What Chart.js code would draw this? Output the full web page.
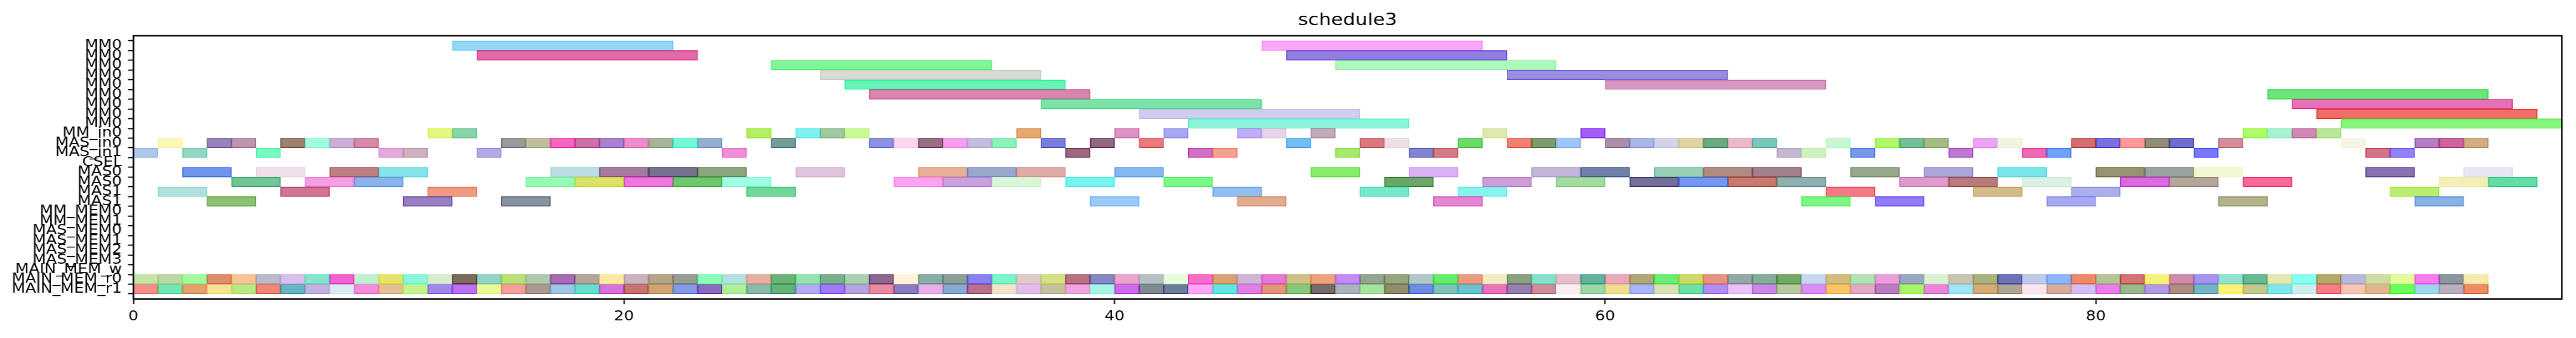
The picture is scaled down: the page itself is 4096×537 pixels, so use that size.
<!DOCTYPE html>
<html>
<head>
<meta charset="utf-8">
<script src="https://cdn.jsdelivr.net/npm/chart.js@4.4.1/dist/chart.umd.min.js"></script>
<style>
html,body{margin:0;padding:0;background:#fff;overflow:hidden;width:4096px;height:537px}
#wrap{width:4096px;height:537px;overflow:hidden;position:relative}
canvas{display:block;transform:scaleX(1.14);transform-origin:0 0}
</style>
</head>
<body>
<div id="wrap"><canvas id="c" width="3593" height="537" style="width:3593px;height:537px"></canvas></div>
<script>
const rowLabels = ['MM0','MM0','MM0','MM0','MM0','MM0','MM0','MM0','MM0','MM_in0','MAS_in0','MAS_in1','CSEL','MAS0','MAS0','MAS1','MAS1','MM_MEM0','MM_MEM1','MAS_MEM0','MAS_MEM1','MAS_MEM2','MAS_MEM3','MAIN_MEM_w','MAIN_MEM_r0','MAIN_MEM_r1'];
const xTickValues = [0, 20, 40, 60, 80];
const chartTitle = 'schedule3';

// task bars: row index, start, end
const barRows = [
  0,0, 1,1, 2,2, 3,3, 4,4, 5,5, 6,6, 7,7, 8,8,
  9,9,9,9,9,9,9,9,9,9,9,9,9,9,9,9,9,9,
  10,10,10,10,10,10,10,10,10,10,10,10,10,10,10,10,10,10,10,10,10,10,10,10,10,10,10,10,10,10,10,10,10,10,10,10,10,10,10,10,10,10,10,10,10,10,10,10,10,10,10,10,10,10,10,10,
  11,11,11,11,11,11,11,11,11,11,11,11,11,11,11,11,11,11,11,11,11,11,
  13,13,13,13,13,13,13,13,13,13,13,13,13,13,13,13,13,13,13,13,13,13,13,13,13,13,13,13,
  14,14,14,14,14,14,14,14,14,14,14,14,14,14,14,14,14,14,14,14,14,14,14,14,14,14,14,14,
  15,15,15,15,15,15,15,15,15,15,15,
  16,16,16,16,16,16,16,16,16,16,16
];
const barStarts = [
  13,46, 14,47, 26,49, 28,56, 29,60, 30,87, 37,88, 41,89, 43,90,
  12,13,25,27,28,29,36,40,42,45,46,48,55,59,86,87,88,89,
  1,3,4,6,7,8,9,15,16,17,18,19,20,21,22,23,26,30,31,32,33,34,35,37,39,41,47,50,51,54,56,57,58,60,61,62,63,64,65,66,69,71,72,73,75,76,79,80,81,82,83,85,90,93,94,95,
  0,2,5,10,11,14,24,38,43,44,49,52,53,67,68,70,74,77,78,84,91,92,
  2,5,8,10,17,19,21,23,27,32,34,36,40,48,52,57,59,62,64,66,70,73,76,80,82,84,91,95,
  4,7,9,16,18,20,22,24,31,33,35,38,42,51,55,58,61,63,65,67,72,74,77,81,83,86,94,96,
  1,6,12,25,44,50,54,69,75,79,92,
  3,11,15,39,45,53,68,71,78,85,93
];
const barEnds = [
  22,55, 23,56, 35,58, 37,65, 38,69, 39,96, 46,97, 50,98, 52,99,
  13,14,26,28,29,30,37,41,43,46,47,49,56,60,87,88,89,90,
  2,4,5,7,8,9,10,16,17,18,19,20,21,22,23,24,27,31,32,33,34,35,36,38,40,42,48,51,52,55,57,58,59,61,62,63,64,65,66,67,70,72,73,74,76,77,80,81,82,83,84,86,91,94,95,96,
  1,3,6,11,12,15,25,39,44,45,50,53,54,68,69,71,75,78,79,85,92,93,
  4,7,10,12,19,21,23,25,29,34,36,38,42,50,54,59,61,64,66,68,72,75,78,82,84,86,93,97,
  6,9,11,18,20,22,24,26,33,35,37,40,44,53,57,60,63,65,67,69,74,76,79,83,85,88,96,98,
  3,8,14,27,46,52,56,71,77,81,94,
  5,13,17,41,47,55,70,73,80,87,95
];

// memory rows: unit cells
const memStarts = [0,1,2,3,4,5,6,7,8,9,10,11,12,13,14,15,16,17,18,19,20,21,22,23,24,25,26,27,28,29,30,31,32,33,34,35,36,37,38,39,40,41,42,43,44,45,46,47,48,49,50,51,52,53,54,55,56,57,58,59,60,61,62,63,64,65,66,67,68,69,70,71,72,73,74,75,76,77,78,79,80,81,82,83,84,85,86,87,88,89,90,91,92,93,94,95];
const memEnds = [1,2,3,4,5,6,7,8,9,10,11,12,13,14,15,16,17,18,19,20,21,22,23,24,25,26,27,28,29,30,31,32,33,34,35,36,37,38,39,40,41,42,43,44,45,46,47,48,49,50,51,52,53,54,55,56,57,58,59,60,61,62,63,64,65,66,67,68,69,70,71,72,73,74,75,76,77,78,79,80,81,82,83,84,85,86,87,88,89,90,91,92,93,94,95,96];
const memRowR0 = 24;
const memRowR1 = 25;

// styles (colours), kept apart from the values
const barColors = [
  '#93d9f7','#fba8f9', '#e36aa8','#917ee0', '#80f59a','#b1f7bd', '#dadad4','#9a8ce0', '#64f4b4','#d598c3', '#d885b0','#6be67a', '#7be3a8','#e66fb7', '#d1cdf0','#f06e68', '#88f5d8','#85f57c',
  '#e4f780','#8ad4a9','#b2f065','#7ff0ed','#a0c8a0','#ccf998','#e6a871','#dc93c6','#a8a8f0','#bfaef5','#e8d4ea','#c4a9b9','#dde9b0','#a45ef7','#adfa6c','#a6f2d3','#cf89b7','#bde59a',
  '#fff7b6','#9782bb','#bd95ad','#9e8170','#a0fce0','#cab0d6','#d589a6','#969a98','#bfbfa0','#f566be','#cb70a8','#a882cb','#ea8dcd','#a8b49a','#74f6d8','#95b0cf','#739c9a','#8c92e0','#fcd5f0','#976f80','#f5a0ef','#c6bdde','#8ef0bb','#7b7ed6','#936683','#e77a7a','#74bdf3','#d77a80','#efdfe7','#6dd869','#ee8271','#7f9b6e','#a0c5fb','#a98ea9','#a9b5e5','#d3d3ec','#dfd5a3','#6aa983','#e8bac6','#7bc6ba','#c9f7d4','#b0f86a','#75be96','#a5bb87','#eaa6f4','#eff5e1','#d26d70','#7b71de','#fd9a99','#928b78','#6d6ecb','#cf8f98','#f4f6e3','#b27fc1','#c966a0','#d0ac85',
  '#b0c8e8','#93d8c2','#77f9c2','#e4aadb','#d0b0bf','#b4a8e5','#f08fd8','#9c6881','#d070c0','#f2a28f','#a8e870','#8286cf','#d37d88','#c6b8cf','#cdf4c0','#7899ea','#bd79d0','#ee69b3','#6ea3f9','#7679f9','#d47488','#9283f8',
  '#7094ec','#efdfe8','#be7f84','#88e2ea','#bcdde4','#a57a9f','#76728f','#8aa47c','#e0c3dc','#e6b094','#98a7ce','#e0aaa8','#85b7f0','#88ec68','#dbb1f5','#c3b6da','#7180a8','#97cfb7','#b08a80','#a27f8b','#96a78c','#aaa5d8','#7ae4ec','#949372','#98a39f','#f2f9d2','#8a70b0','#e5e7f3',
  '#70c496','#f49ee4','#8ab3ec','#98f9b4','#dae26a','#ef78de','#72c670','#a0fce3','#faa4f1','#c9a0e0','#d8f6d8','#76f4ed','#7cf988','#6aa66a','#cd9ed5','#a4dba0','#756e9b','#7497f0','#c77a72','#8fb0ae','#dd9bca','#b87b7b','#daf0e2','#d96ae0','#b4a59b','#f6699b','#f2f0b8','#66dba6',
  '#b0e1de','#d07594','#f09a84','#72d69a','#92bdf0','#76eac8','#88f2ee','#f27a84','#d3bc8a','#aaaeea','#bbed70',
  '#8cc074','#9780c2','#8892a0','#9bcbf8','#e0ad91','#e386d1','#7ef584','#957cf7','#a8aaf0','#b4b28c','#87b2e4'
];
const memR0Colors = ['#c6e4a6','#bad9a4','#a3fb9f','#dd8e6c','#f4c597','#babac8','#d6c1ec','#86e3cd','#f063d3','#c4f0cf','#e6e36b','#8bf6dc','#d8ecd0','#7e6b60','#92d3c5','#b7df7a','#b0c8ae','#a66cb4','#b4a59a','#fbeaa3','#c9b3bc','#b4a48a','#969e94','#8efcba','#b3e0e0','#e5aea0','#6bb477','#93e2b0','#7bb08f','#aad0b0','#8c6891','#fff3d9','#8aaca6','#8b9f98','#8a83ee','#7cf3c8','#dfcac7','#d4e084','#b77280','#8389c2','#eaa4cc','#b5c0c2','#e8fbdc','#f86fcb','#d9a276','#cfb5d6','#e77ad6','#cec08a','#eca47c','#c48af5','#94a690','#97a67f','#b0c8c8','#65ec6a','#e89c84','#f2eac6','#8aa07f','#86e0cc','#e5bfcc','#63b39c','#eaa9b8','#aca877','#6fea77','#cbd86a','#e49482','#93a9a3','#86ad96','#73a968','#c7d8f0','#d3bc80','#b1e1b4','#e9a0d8','#9aaabe','#def0d3','#c8c5b4','#a8b27f','#6e73b5','#c0cae8','#8db6fb','#ec8a6a','#b6c298','#cf7575','#f5f27c','#d08aaa','#a695f0','#96e0d0','#68b893','#e4e8b0','#8afef0','#b4a86a','#b8b8dc','#d0dca8','#e0fc9c','#f87af0','#8a96a0','#f6eab0'];
const memR1Colors = ['#f39088','#74e5b0','#e5a070','#f5e494','#b7e88a','#ed877a','#68b4c2','#c3b1de','#daecee','#f28de0','#e4bf96','#c3f490','#a287eb','#b873ee','#e8fb96','#f2a09c','#ab9a92','#9bc7e0','#6cdcd0','#d474d6','#c47470','#cea576','#8699e6','#8b6cbc','#aeee98','#8ab8ac','#65b27b','#b4acf2','#a27af8','#b6a4e0','#e68c9e','#8a7cc0','#e8b0e8','#88a8d0','#b7728e','#f3e2cc','#e2bcec','#c6c39c','#efa6e0','#a8f5e8','#cd6cea','#7f8a90','#6b7f9c','#fda7f5','#63e6e0','#e07ee3','#e0957f','#88c878','#766b6b','#a9b5bc','#a8e2a0','#8e8e6b','#6b8ee0','#82c0b8','#6cc2d0','#ea74b8','#9680b2','#cc8e98','#f9eef0','#9ed6a8','#f0dd94','#a8b4f8','#d8e2b4','#6ce0a6','#b08ef2','#ecc0f8','#c888e4','#b8c8a0','#da90f7','#f5c46a','#e2a9c4','#b87fc0','#a9f56a','#e888d6','#a0e5f5','#d6aa78','#b0a595','#fce6ee','#d8ad98','#d2c0f5','#e87ee8','#98b88e','#b09ae3','#ab8f7f','#74b6c6','#fdf27a','#c2c890','#7de6ee','#ccecee','#f87d88','#f4c4b4','#e0b890','#6cfc5c','#a0d6ec','#bab0bc','#ea8c68'];

const FONT = 'DejaVu Sans';

function edgeColor(hex) {
  const n = parseInt(hex.slice(1), 16);
  const ch = [(n >> 16) & 255, (n >> 8) & 255, n & 255].map(c => Math.max(0, Math.round(255 - (255 - c) * 1.45)));
  return 'rgb(' + ch.join(',') + ')';
}

function makeDataset(rows, starts, ends, colors) {
  return {
    data: starts.map((s, i) => ({ x: [s, ends[i]], y: rows[i] })),
    backgroundColor: colors,
    borderColor: colors.map(edgeColor),
    borderWidth: 1.5,
    borderSkipped: false,
    grouped: false,
    barPercentage: 1,
    categoryPercentage: 1
  };
}

const datasets = [
  makeDataset(barRows, barStarts, barEnds, barColors),
  makeDataset(memStarts.map(() => memRowR0), memStarts, memEnds, memR0Colors),
  makeDataset(memStarts.map(() => memRowR1), memStarts, memEnds, memR1Colors)
];

const framePlugin = {
  id: 'frame',
  afterDatasetsDraw(chart) {
    const a = chart.chartArea;
    const ctx = chart.ctx;
    ctx.save();
    ctx.strokeStyle = '#000';
    ctx.lineWidth = 2.2;
    ctx.strokeRect(a.left, a.top, a.right - a.left, a.bottom - a.top);
    ctx.restore();
  }
};

new Chart(document.getElementById('c'), {
  type: 'bar',
  data: { datasets },
  options: {
    indexAxis: 'y',
    responsive: false,
    animation: false,
    events: [],
    layout: { padding: { left: 0, right: 19.8, top: 0, bottom: 0 } },
    plugins: {
      legend: { display: false },
      tooltip: { enabled: false },
      title: { display: false }
    },
    scales: {
      x: {
        type: 'linear',
        position: 'bottom',
        min: 0,
        max: 99,
        afterBuildTicks: s => { s.ticks = xTickValues.map(v => ({ value: v })); },
        afterFit: s => { s.height = 62; },
        ticks: { color: '#000', font: { family: FONT, size: 22 }, padding: 7.2, maxRotation: 0, autoSkip: false },
        grid: { drawOnChartArea: false, drawTicks: true, tickLength: 8.2, tickWidth: 1.8, tickColor: '#000' },
        border: { display: true, color: '#000', width: 2.2 }
      },
      titleAxis: {
        type: 'linear',
        position: 'top',
        min: 0,
        max: 99,
        afterFit: s => { s.height = 56.8; },
        ticks: { display: false },
        grid: { display: false, drawTicks: false },
        border: { display: false },
        title: {
          display: true,
          text: chartTitle,
          color: '#000',
          font: { family: FONT, size: 27, weight: 'normal', lineHeight: 1.2 },
          padding: { top: 16.8, bottom: 7.6 }
        }
      },
      y: {
        type: 'linear',
        position: 'left',
        min: -0.5,
        max: 25.5,
        reverse: true,
        afterBuildTicks: s => { s.ticks = rowLabels.map((_, i) => ({ value: i })); },
        afterFit: s => { s.width = 186; },
        ticks: { callback: v => rowLabels[v], autoSkip: false, color: '#000', font: { family: FONT, size: 22 }, padding: 8.5 },
        grid: { drawOnChartArea: false, drawTicks: true, tickLength: 7.4, tickWidth: 1.8, tickColor: '#000' },
        border: { display: true, color: '#000', width: 2.2 }
      }
    }
  },
  plugins: [framePlugin]
});
</script>
</body>
</html>
